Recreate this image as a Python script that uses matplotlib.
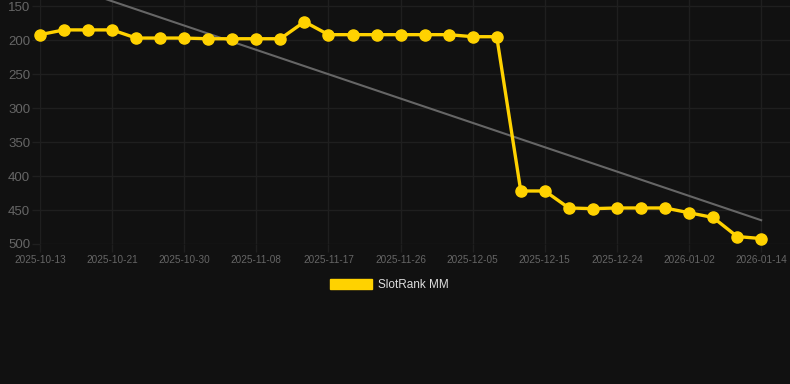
import matplotlib
matplotlib.use("Agg")
import matplotlib.pyplot as plt
from matplotlib.patches import Patch

# Données
dates = ["2025-10-13", "2025-10-16", "2025-10-18", "2025-10-21", "2025-10-24",
         "2025-10-27", "2025-10-30", "2025-11-02", "2025-11-05", "2025-11-08",
         "2025-11-11", "2025-11-14", "2025-11-17", "2025-11-20", "2025-11-23",
         "2025-11-26", "2025-11-29", "2025-12-02", "2025-12-05", "2025-12-09",
         "2025-12-12", "2025-12-15", "2025-12-18", "2025-12-21", "2025-12-24",
         "2025-12-27", "2025-12-30", "2026-01-02", "2026-01-06", "2026-01-10",
         "2026-01-14"]
rank = [192, 185, 185, 185, 197, 197, 197, 198, 198, 198,
        198, 173, 192, 192, 192, 192, 192, 192, 195, 195,
        422, 422, 447, 448, 447, 447, 447, 454, 461, 489,
        492]
trend = [107, 465]  # début / fin de la tendance
yticks = [150, 200, 250, 300, 350, 400, 450, 500]

bg = "#111111"
grid_col = "#1f1f1f"
txt_col = "#666666"
gold = "#FFD200"

plt.rcParams['font.family'] = ['Liberation Sans', 'DejaVu Sans']

fig = plt.figure(figsize=(7.9, 3.84), dpi=100, facecolor=bg)
ax = fig.add_axes([40/790, 1 - 244/384, 1 - 40/790, 244/384])
ax.set_facecolor(bg)

x = list(range(len(dates)))
ax.plot([x[0], x[-1]], trend, color="#666666", lw=1.5, zorder=2)
ax.plot(x, rank, color=gold, lw=2.4, marker="o", ms=8,
        markerfacecolor=gold, markeredgecolor=gold, zorder=3, clip_on=False)

ax.set_ylim(500, 141)
ax.set_xlim(0, 31.2)
ax.set_yticks(yticks)
ax.set_xticks(x[::3])
ax.set_xticklabels(dates[::3])

ax.grid(True, color=grid_col, lw=1)
for s in ax.spines.values():
    s.set_visible(False)
ax.tick_params(axis="y", colors=grid_col, labelcolor=txt_col, labelsize=9.5,
               length=6, width=1, pad=1)
ax.tick_params(axis="x", colors=grid_col, labelcolor=txt_col, labelsize=7.2,
               length=6, width=1, pad=2)

fig.legend(handles=[Patch(facecolor=gold, edgecolor=gold, label="SlotRank MM")],
           loc="center", bbox_to_anchor=(0.493, 1 - 285/384), frameon=False,
           handlelength=3.6, handleheight=1.0, handletextpad=0.5,
           labelcolor="#dddddd", fontsize=8.5)

fig.savefig("out.png", dpi=100, facecolor=bg)
